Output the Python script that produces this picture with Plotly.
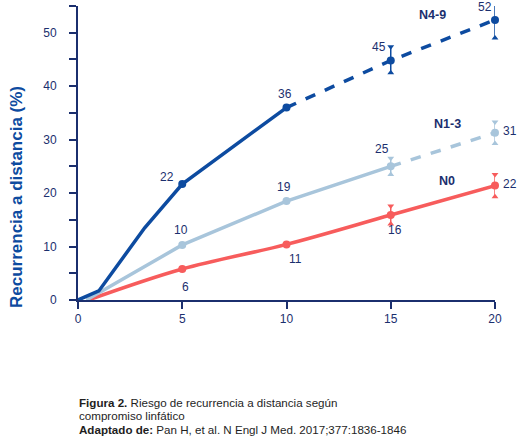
import plotly.graph_objects as go

# ---------------- data ----------------
years_n49_solid = [0, 1, 3.2, 5, 10]
vals_n49_solid = [0, 1.7, 13.5, 21.7, 36]
years_n49_dash = [10, 15, 20]
vals_n49_dash = [36, 44.8, 52.4]

years_n13_solid = [0.4, 5, 10, 15]
vals_n13_solid = [0, 10.3, 18.5, 25]
years_n13_dash = [15, 20]
vals_n13_dash = [25, 31.3]

years_n0 = [0.5, 5, 10, 15, 20]
vals_n0 = [0, 5.8, 10.4, 15.9, 21.4]

# markers (points with values)
pts_n49_x = [5, 10, 15, 20]
pts_n49_y = [21.7, 36, 44.8, 52.4]
pts_n49_lbl = ["22", "36", "45", "52"]
pts_n13_x = [5, 10, 15, 20]
pts_n13_y = [10.3, 18.5, 25, 31.3]
pts_n13_lbl = ["10", "19", "25", "31"]
pts_n0_x = [5, 10, 15, 20]
pts_n0_y = [5.8, 10.4, 15.9, 21.4]
pts_n0_lbl = ["6", "11", "16", "22"]

# confidence bounds at 15 and 20 years
err_x = [15, 20]
err_n49_plus = [2.6, 3.4]
err_n49_minus = [2.3, 3.4]
err_n13_plus = [1.5, 2.0]
err_n13_minus = [1.5, 2.0]
err_n0_plus = [1.7, 2.1]
err_n0_minus = [1.7, 2.1]

series_names = ["N4-9", "N1-3", "N0"]
series_name_x = [17.0, 17.7, 17.7]
series_name_y = [53.3, 32.9, 22.3]

x_ticks = [0, 5, 10, 15, 20]
y_ticks = [0, 5, 10, 15, 20, 25, 30, 35, 40, 45, 50, 55]
y_ticklabels = ["0", "", "10", "", "20", "", "30", "", "40", "", "50", ""]

y_title = "Recurrencia a distancia (%)"
caption_lines = ["<b>Figura 2.</b> Riesgo de recurrencia a distancia según",
                 "compromiso linfático",
                 "<b>Adaptado de:</b> Pan H, et al. N Engl J Med. 2017;377:1836-1846"]

# ---------------- style ----------------
NAVY = "#0d4ba0"
LIGHT = "#a8c5db"
RED = "#f75c5c"
TEXT = "#1b2f6e"
FONT = "Liberation Sans"

fig = go.Figure()

def line(x, y, color, dash="solid", shape="linear"):
    fig.add_trace(go.Scatter(x=x, y=y, mode="lines",
                             line=dict(color=color, width=3.5, dash=dash, shape=shape),
                             hoverinfo="skip", cliponaxis=False))

line(years_n0, vals_n0, RED, shape="spline")
line(years_n13_solid, vals_n13_solid, LIGHT)
line(years_n13_dash, vals_n13_dash, LIGHT, dash="dash")
line(years_n49_solid, vals_n49_solid, NAVY)
line(years_n49_dash, vals_n49_dash, NAVY, dash="dash")

def points(px, py, color, eplus, eminus):
    ey = {x: y for x, y in zip(px, py)}
    ex_y = [ey[x] for x in err_x]
    fig.add_trace(go.Scatter(
        x=err_x, y=ex_y, mode="markers",
        marker=dict(size=0.1, color=color),
        error_y=dict(type="data", array=eplus, arrayminus=eminus,
                     color=color, thickness=1.5, width=0),
        hoverinfo="skip", cliponaxis=False))
    fig.add_trace(go.Scatter(
        x=err_x, y=[y + e for y, e in zip(ex_y, eplus)], mode="markers",
        marker=dict(symbol="triangle-down", size=6, color=color),
        hoverinfo="skip", cliponaxis=False))
    fig.add_trace(go.Scatter(
        x=err_x, y=[y - e for y, e in zip(ex_y, eminus)], mode="markers",
        marker=dict(symbol="triangle-up", size=6, color=color),
        hoverinfo="skip", cliponaxis=False))
    fig.add_trace(go.Scatter(x=px, y=py, mode="markers",
                             marker=dict(size=8, color=color),
                             hoverinfo="skip", cliponaxis=False))

points(pts_n0_x, pts_n0_y, RED, err_n0_plus, err_n0_minus)
points(pts_n13_x, pts_n13_y, LIGHT, err_n13_plus, err_n13_minus)
points(pts_n49_x, pts_n49_y, NAVY, err_n49_plus, err_n49_minus)

# value labels: pixel offsets from each point
offs_n49 = [(-15, 7), (-2, 14), (-12, 14), (-10, 13)]
offs_n13 = [(-1, 15), (-3, 14), (-9, 17), (15, 2)]
offs_n0 = [(3, -18), (9, -15), (4, -15), (15, 2)]

annotations = []
for xs, ys, lbls, offs in [(pts_n49_x, pts_n49_y, pts_n49_lbl, offs_n49),
                           (pts_n13_x, pts_n13_y, pts_n13_lbl, offs_n13),
                           (pts_n0_x, pts_n0_y, pts_n0_lbl, offs_n0)]:
    for x, y, t, (dx, dy) in zip(xs, ys, lbls, offs):
        annotations.append(dict(x=x, y=y, xref="x", yref="y", text=t,
                                showarrow=False, xshift=dx, yshift=dy,
                                font=dict(family=FONT, size=12, color=TEXT)))

for name, x, y in zip(series_names, series_name_x, series_name_y):
    annotations.append(dict(x=x, y=y, xref="x", yref="y", text="<b>%s</b>" % name,
                            showarrow=False,
                            font=dict(family=FONT, size=12.5, color=TEXT)))

W, H = 523, 437
pl, pr, pt, pb = 78, 28, 6, 137
pw, ph = W - pl - pr, H - pt - pb

annotations.append(dict(
    x=(17 - pl) / pw, y=(H - pb - 197) / ph, xref="paper", yref="paper",
    text="<b>%s</b>" % y_title,
    textangle=-90, showarrow=False, xanchor="center", yanchor="middle",
    font=dict(family=FONT, size=17, color=NAVY)))

for i, txt in enumerate(caption_lines):
    cy = 402 + 13.5 * i
    annotations.append(dict(x=(77 - pl) / pw, y=(H - pb - cy) / ph,
                            xref="paper", yref="paper",
                            text=txt, showarrow=False, xanchor="left", yanchor="middle",
                            align="left",
                            font=dict(family=FONT, size=11.6, color="#1e1e1e")))

fig.update_layout(
    width=W, height=H,
    margin=dict(l=pl, r=pr, t=pt, b=pb),
    paper_bgcolor="white", plot_bgcolor="white",
    showlegend=False,
    xaxis=dict(range=[0, 20], tickvals=x_ticks, ticks="outside", ticklen=7,
               tickwidth=2, tickcolor=TEXT, showline=True, linecolor=TEXT,
               linewidth=2, showgrid=False, zeroline=False,
               tickfont=dict(family=FONT, size=12, color=TEXT)),
    yaxis=dict(range=[0, 55], tickvals=y_ticks, ticktext=y_ticklabels,
               ticks="outside", ticklen=7, tickwidth=2, tickcolor=TEXT,
               showline=True, linecolor=TEXT, linewidth=2, showgrid=False,
               zeroline=False, ticklabelstandoff=10,
               tickfont=dict(family=FONT, size=12, color=TEXT)),
    annotations=annotations,
)

fig.write_html("out.html", config={"displayModeBar": False},
               post_script="document.body.style.margin='0';")
